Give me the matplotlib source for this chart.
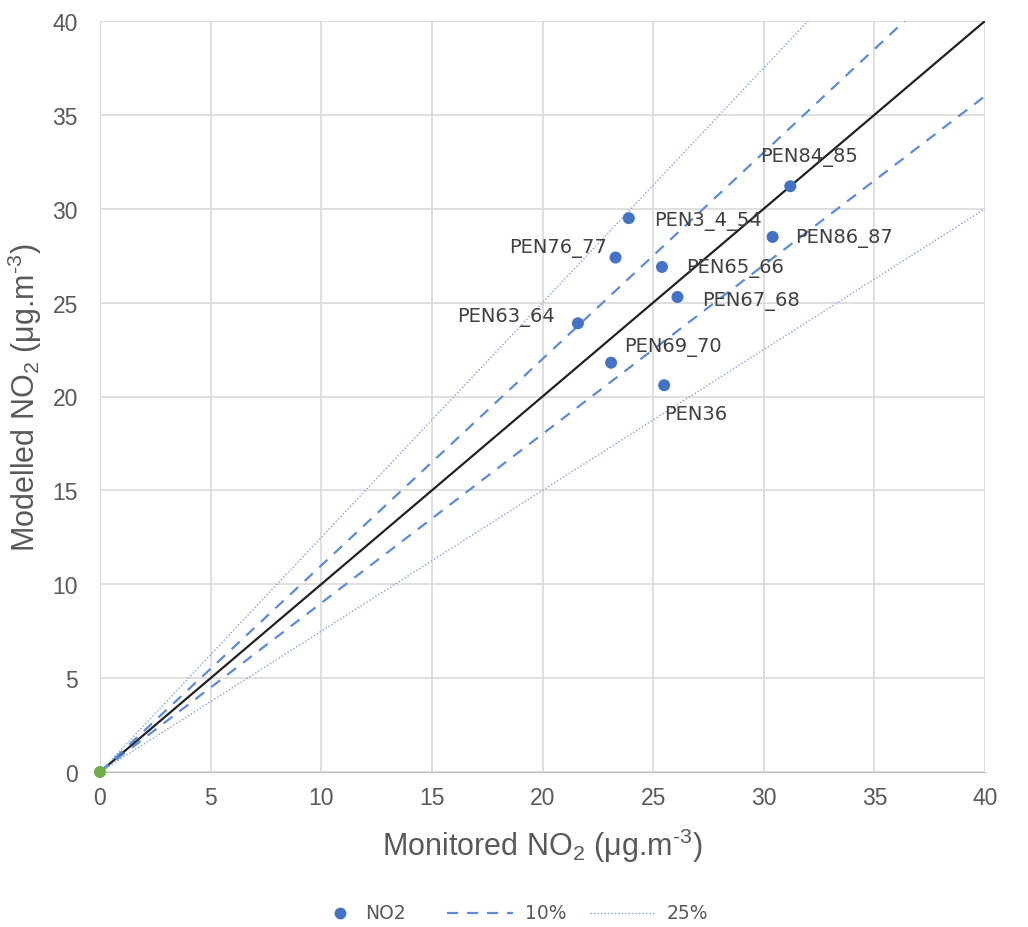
import matplotlib
matplotlib.use("Agg")
import matplotlib.pyplot as plt
import numpy as np

# ---- data ----
sites = ["PEN84_85", "PEN3_4_54", "PEN86_87", "PEN76_77", "PEN65_66",
         "PEN67_68", "PEN63_64", "PEN69_70", "PEN36"]
monitored = [31.2, 23.9, 30.4, 23.3, 25.4, 26.1, 21.6, 23.1, 25.5]
modelled = [31.2, 29.5, 28.5, 27.4, 26.9, 25.3, 23.9, 21.8, 20.6]
origin_x = [0]
origin_y = [0]
ticks = [0, 5, 10, 15, 20, 25, 30, 35, 40]
legend_labels = ["NO2", "10%", "25%"]

# label layout (pixel offsets, alignment)
label_pos = {
    "PEN84_85": ((19, 30), "center"),
    "PEN3_4_54": ((25, -2), "left"),
    "PEN86_87": ((23, -1), "left"),
    "PEN76_77": ((-9, 10), "right"),
    "PEN65_66": ((24, -1), "left"),
    "PEN67_68": ((25, -4), "left"),
    "PEN63_64": ((-23, 7), "right"),
    "PEN69_70": ((13, 16), "left"),
    "PEN36": ((0, -28), "left"),
}

plt.rcParams['font.family'] = ['Liberation Sans', 'DejaVu Sans']
plt.rcParams['mathtext.fontset'] = 'custom'
plt.rcParams['mathtext.rm'] = 'Liberation Sans'
plt.rcParams['mathtext.it'] = 'Liberation Sans'

W, H = 1028, 928
fig = plt.figure(figsize=(W / 100, H / 100), dpi=100)
ax = fig.add_axes([100 / W, (H - 773) / H, (985 - 100) / W, (773 - 22) / H])

gray_text = "#595959"
blue = "#4472C4"
lineblue = "#5B8BD9"
dotblue = "#7FA3E0"
dash_ls = (0, (5, 4))
dot_ls = (0, (1, 1.5))

xs = np.array([0, 40])
ax.plot(xs, xs, color="#222222", lw=1.6, zorder=3)
ax.plot(xs, xs * 1.1, color=lineblue, lw=1.6, ls=dash_ls, zorder=3)
ax.plot(xs, xs * 0.9, color=lineblue, lw=1.6, ls=dash_ls, zorder=3)
ax.plot(xs, xs * 1.25, color=dotblue, lw=1.0, ls=dot_ls, zorder=3)
ax.plot(xs, xs * 0.75, color=dotblue, lw=1.0, ls=dot_ls, zorder=3)

ax.scatter(monitored, modelled, s=75, color=blue, zorder=5, edgecolors="none")
ax.scatter(origin_x, origin_y, s=75, color="#70AD47", zorder=6, edgecolors="none", clip_on=False)

for name, x, y in zip(sites, monitored, modelled):
    (dx, dy), ha = label_pos[name]
    ax.annotate(name, (x, y), xytext=(dx, dy), textcoords="offset pixels",
                ha=ha, va="center", fontsize=14, color="#404040", zorder=7,
                family="DejaVu Sans")

ax.set_xlim(0, 40)
ax.set_ylim(0, 40)
ax.set_xticks(ticks)
ax.set_yticks(ticks)
ax.grid(True, color="#d9d9d9", lw=1.2)
ax.set_axisbelow(True)
for s in ["top", "right"]:
    ax.spines[s].set_visible(False)
ax.spines["left"].set_color("#d9d9d9")
ax.spines["bottom"].set_color("#bfbfbf")
ax.tick_params(length=0, labelsize=16.5, labelcolor=gray_text)
ax.tick_params(axis="y", pad=16)
ax.tick_params(axis="x", pad=10)

ax.set_xlabel(r"Monitored NO$_2$ ($\mathregular{\mu}$g.m$^{\text{-}3}$)", fontsize=22, color=gray_text, labelpad=12)
ax.set_ylabel(r"Modelled NO$_2$ ($\mathregular{\mu}$g.m$^{\text{-}3}$)", fontsize=22, color=gray_text, labelpad=6)

# ---- legend drawn in figure pixel space ----
lax = fig.add_axes([0, 0, 1, 1], zorder=10)
lax.set_xlim(0, W)
lax.set_ylim(H, 0)
lax.axis("off")
ly = 914
lax.plot([340], [ly], "o", ms=8.5, color=blue, mec="none")
lax.text(365, ly, legend_labels[0], va="center", ha="left", fontsize=13.5, color=gray_text, family="DejaVu Sans")
lax.plot([447, 513], [ly, ly], color=lineblue, lw=1.6, ls=dash_ls)
lax.text(525, ly, legend_labels[1], va="center", ha="left", fontsize=13.5, color=gray_text, family="DejaVu Sans")
lax.plot([590, 655], [ly, ly], color=dotblue, lw=1.0, ls=dot_ls)
lax.text(667, ly, legend_labels[2], va="center", ha="left", fontsize=13.5, color=gray_text, family="DejaVu Sans")

fig.savefig("out.png", dpi=100)
